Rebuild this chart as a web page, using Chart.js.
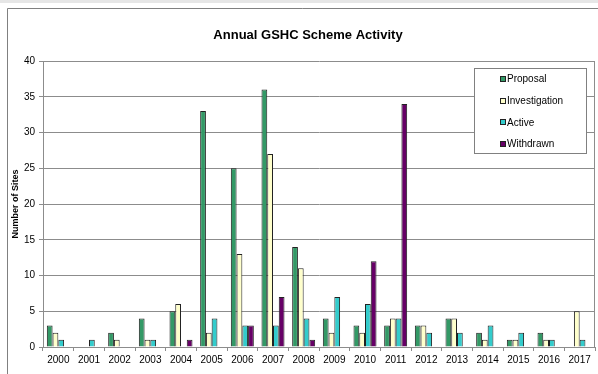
<!DOCTYPE html>
<html>
<head>
<meta charset="utf-8">
<title>Annual GSHC Scheme Activity</title>
<script src="https://cdn.jsdelivr.net/npm/chart.js@4.4.1/dist/chart.umd.min.js"></script>
<style>
  html, body { margin: 0; padding: 0; background: #fff; }
  canvas { display: block; }
</style>
</head>
<body>
<canvas id="activity" width="598" height="374"></canvas>
<script>
// site counts per year, one array per scheme status
const years = ["2000", "2001", "2002", "2003", "2004", "2005", "2006", "2007", "2008",
               "2009", "2010", "2011", "2012", "2013", "2014", "2015", "2016", "2017"];
const proposal      = [3, 0, 2, 4, 5, 33, 25, 36, 14, 4, 3, 3, 3, 4, 2, 1, 2, 0];
const investigation = [2, 0, 1, 1, 6, 2, 13, 27, 11, 2, 2, 4, 3, 4, 1, 1, 1, 5];
const active        = [1, 1, 0, 1, 0, 4, 3, 3, 4, 7, 6, 4, 2, 2, 3, 2, 1, 1];
const withdrawn     = [0, 0, 0, 0, 1, 0, 3, 7, 1, 0, 12, 34, 0, 0, 0, 0, 0, 0];
const yTicks = [0, 5, 10, 15, 20, 25, 30, 35, 40];

const FONT = "'Liberation Sans', Arial, Helvetica, sans-serif";

// frame, title and the plot area's right edge
const framePlugin = {
  id: "frame",
  beforeDraw(chart) {
    const ctx = chart.ctx;
    ctx.save();
    ctx.fillStyle = "#fff";
    ctx.fillRect(0, 0, chart.width, chart.height);
    ctx.fillStyle = "#e6e6e6";
    ctx.fillRect(0, 0, chart.width, 3);
    ctx.strokeStyle = "#808080";
    ctx.lineWidth = 1;
    ctx.beginPath();
    ctx.moveTo(7.5, chart.height);
    ctx.lineTo(7.5, 8.5);
    ctx.lineTo(chart.width, 8.5);
    ctx.stroke();
    ctx.fillStyle = "#000";
    ctx.font = "bold 13px " + FONT;
    ctx.textAlign = "center";
    ctx.textBaseline = "middle";
    ctx.fillText("Annual GSHC Scheme Activity", 308, 35);
    ctx.restore();
  },
  afterDraw(chart) {
    const { ctx, chartArea } = chart;
    ctx.save();
    ctx.strokeStyle = "#8c8c8c";
    ctx.lineWidth = 1;
    ctx.beginPath();
    ctx.moveTo(chartArea.right - 0.5, chartArea.top);
    ctx.lineTo(chartArea.right - 0.5, chartArea.bottom);
    ctx.stroke();
    ctx.restore();
  }
};

// boxed legend sitting inside the plot, top right
const boxLegend = {
  id: "boxLegend",
  afterDraw(chart) {
    const ctx = chart.ctx;
    const x = 474, y = 68, w = 113, h = 86;
    ctx.save();
    ctx.fillStyle = "#fff";
    ctx.fillRect(x, y, w, h);
    ctx.strokeStyle = "#808080";
    ctx.lineWidth = 1;
    ctx.strokeRect(x + 0.5, y + 0.5, w - 1, h - 1);
    ctx.font = "10px " + FONT;
    ctx.textBaseline = "middle";
    ctx.textAlign = "left";
    chart.data.datasets.forEach((ds, i) => {
      const cy = 79 + i * 21.7;
      ctx.fillStyle = ds.backgroundColor;
      ctx.fillRect(500, Math.round(cy) - 3, 6, 6);
      ctx.strokeStyle = "#222";
      ctx.strokeRect(500.5, Math.round(cy) - 2.5, 5, 5);
      ctx.fillStyle = "#000";
      ctx.fillText(ds.label, 507, cy + 0.5);
    });
    ctx.restore();
  }
};

const series = [
  { label: "Proposal", data: proposal, color: "#339966" },
  { label: "Investigation", data: investigation, color: "#ffffcc" },
  { label: "Active", data: active, color: "#33cccc" },
  { label: "Withdrawn", data: withdrawn, color: "#660066" }
];

new Chart(document.getElementById("activity"), {
  type: "bar",
  data: {
    labels: years,
    datasets: series.map(s => ({
      label: s.label,
      data: s.data,
      backgroundColor: s.color,
      borderColor: "#222",
      borderWidth: 1,
      borderSkipped: "bottom",
      barPercentage: 1,
      categoryPercentage: 0.75
    }))
  },
  options: {
    responsive: false,
    animation: false,
    layout: { padding: { top: 61, right: 3, left: 0, bottom: 0 } },
    plugins: {
      legend: { display: false },
      title: { display: false },
      tooltip: { enabled: false }
    },
    scales: {
      x: {
        afterFit(scale) { scale.height = 27; },
        grid: { offset: true, drawOnChartArea: false, drawTicks: true, tickLength: 4, color: "#8c8c8c" },
        border: { color: "#8c8c8c" },
        ticks: { color: "#000", font: { family: FONT, size: 10 }, padding: 3, maxRotation: 0, autoSkip: false }
      },
      y: {
        min: 0,
        max: 40,
        afterFit(scale) { scale.width = 43; },
        afterBuildTicks(scale) { scale.ticks = yTicks.map(v => ({ value: v })); },
        grid: { color: "#8c8c8c", tickLength: 4 },
        border: { color: "#8c8c8c" },
        ticks: { color: "#000", font: { family: FONT, size: 10 }, padding: 4 },
        title: {
          display: true,
          text: "Number of Sites",
          color: "#000",
          font: { family: FONT, size: 9, weight: "bold" },
          padding: { top: 10, bottom: 0 }
        }
      }
    }
  },
  plugins: [framePlugin, boxLegend]
});
</script>
</body>
</html>
